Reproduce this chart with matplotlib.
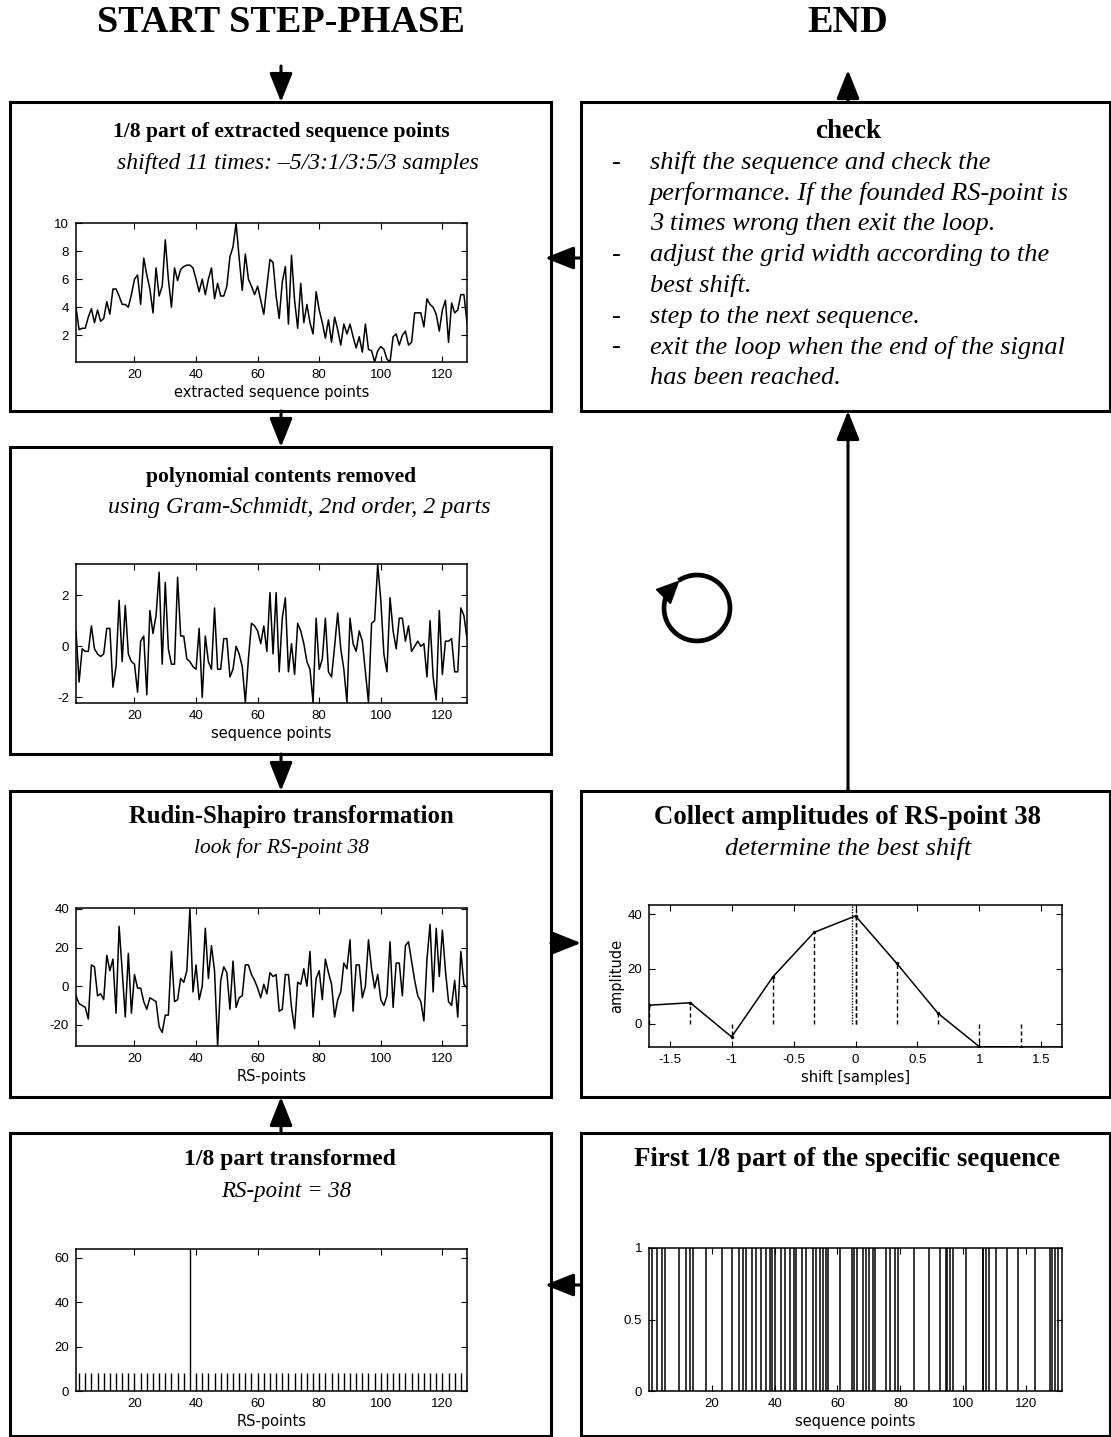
import numpy as np
import matplotlib
matplotlib.use("Agg")
import matplotlib.pyplot as plt
from matplotlib.patches import Rectangle, Polygon

W, H = 1111, 1437

# extracted sequence points (1/8 part)
seq_points = [
    4.0, 2.4, 2.5, 2.5, 3.3, 3.9, 2.9, 3.8, 3.0, 3.2,
    4.4, 3.5, 5.3, 5.3, 4.8, 4.2, 4.2, 4.0, 4.9, 6.0,
    6.3, 4.2, 7.5, 6.3, 5.3, 3.6, 6.8, 4.8, 5.5, 8.8,
    6.0, 4.0, 6.8, 5.9, 6.7, 6.9, 7.0, 7.0, 6.8, 6.0,
    5.1, 6.0, 4.9, 6.0, 6.8, 4.6, 5.7, 4.8, 4.8, 5.5,
    7.6, 8.3, 10.0, 7.5, 5.2, 7.8, 6.0, 5.5, 4.9, 5.5,
    4.5, 3.5, 5.5, 7.4, 7.2, 4.8, 3.2, 5.8, 6.9, 2.8,
    7.7, 4.5, 2.5, 5.7, 2.9, 4.2, 2.9, 2.1, 5.1, 3.8,
    2.9, 1.8, 3.1, 1.5, 3.3, 2.4, 1.3, 2.8, 2.1, 2.8,
    1.9, 1.1, 1.9, 0.8, 2.8, 1.0, 0.9, 0.1, 0.9, 1.2,
    1.0, 0.3, 0.1, 1.9, 2.1, 1.3, 2.0, 2.3, 1.3, 1.5,
    3.6, 3.6, 3.6, 2.6, 4.6, 4.2, 4.0, 3.5, 2.3, 3.8,
    4.5, 1.5, 4.3, 3.6, 3.8, 4.9, 4.9, 2.9,
]

# after removing the polynomial contents
detrended = [
    0.6, -1.4, -0.1, -0.2, -0.2, 0.8, -0.1, -0.3, -0.4, -0.3,
    0.7, 0.7, -1.6, -0.8, 1.8, -0.6, 1.6, -0.3, -0.6, -0.7,
    -1.8, 0.2, 0.4, -1.9, 1.4, 0.5, 1.2, 2.9, -0.7, 2.5,
    -0.1, -0.7, -0.7, 2.7, 0.4, 0.4, -0.5, -0.6, -0.8, -0.9,
    0.7, -2.0, 0.4, -0.6, -0.9, 1.5, -0.9, -0.9, 0.3, 0.3,
    -1.2, -0.9, 0.0, -0.3, -0.8, -2.2, -0.5, 0.9, 0.8, 0.6,
    0.1, 0.8, -0.2, 2.1, -0.3, 2.1, -1.0, 1.1, 1.9, -1.0,
    0.1, -1.1, 0.9, 0.6, 0.1, -0.6, -0.9, -2.2, 1.1, -0.9,
    -0.5, 1.1, -1.0, -1.2, 0.0, 1.3, -0.1, -0.9, -2.2, 1.1,
    0.1, -0.2, 0.6, 0.2, -1.0, -2.2, 0.9, 1.0, 3.2, 1.8,
    -0.3, -1.0, 1.9, 0.6, -0.1, 1.1, 1.1, 0.2, 0.8, -0.2,
    0.0, 0.2, 0.0, 0.1, -1.2, 1.0, -1.2, -2.1, 1.4, -1.1,
    0.2, 0.2, 0.3, -1.0, -1.0, 1.5, 1.2, 0.3,
]

# Rudin-Shapiro transform of the detrended part
rs_transform = [
    -5, -9, -10, -11, -17, 11, 10, -5, -4, -7,
    16, 8, 14, -14, 31, 8, -16, 17, -14, 6,
    -1, -1, -8, -12, -6, -7, -8, -21, -24, -15,
    -15, 18, -8, -7, 4, 2, 8, 40, -3, 11,
    -7, 0, 30, 4, 21, 8, -31, 3, 10, 7,
    -12, 13, -11, -6, -5, 11, 11, 6, 3, -1,
    -6, 1, -4, 7, 5, 6, -13, -12, 6, 6,
    -11, -22, 2, 1, 9, 0, 18, -16, 4, 8,
    -7, 14, 7, 1, -16, -7, -3, 12, 9, 24,
    -13, 11, 11, -6, 0, 24, 9, -1, 6, -7,
    -10, -5, 23, -11, 12, 12, -5, 21, 23, 13,
    3, -5, -8, -18, 14, 32, -3, 30, 5, 29,
    8, -8, -10, 3, -16, 18, 1, -1,
]

# amplitudes of RS-point 38 for every shift
shifts = [-5/3, -4/3, -1, -2/3, -1/3, 0, 1/3, 2/3, 1, 4/3, 5/3]
amplitudes = [6.7, 7.6, -4.9, 17.1, 33.4, 39.4, 22.0, 3.7, -8.5, -8.6, -8.6]
best_shift = -0.03

# transformed specific sequence: one peak at RS-point 38
rs_single_x = np.arange(2, 129, 2)
rs_single_y = [
    8, 8, 8, 8, 8, 8, 8, 8, 8, 8, 8, 8, 8, 8, 8, 8,
    8, 8, 64, 8, 8, 8, 8, 8, 8, 8, 8, 8, 8, 8, 8, 8,
    8, 8, 8, 8, 8, 8, 8, 8, 8, 8, 8, 8, 8, 8, 8, 8,
    8, 8, 8, 8, 8, 8, 8, 8, 8, 8, 8, 8, 8, 8, 8, 8,
]

# positions where the specific 0/1 sequence changes value
flip_points = [
    1, 2.5, 4, 5.2, 9.5, 11.8, 13.2, 13.9, 18.2, 23.3,
    26.5, 28.8, 29.9, 31, 32.9, 34.1, 35.7, 37.3, 38.4, 39.3,
    40, 42.1, 43.2, 44.8, 46.1, 46.7, 48.7, 50.1, 52.2, 53.3,
    54.4, 55.4, 56.3, 57, 60.7, 64.7, 65.3, 66.1, 68, 69,
    70.1, 71.2, 71.9, 75.6, 76.7, 78.3, 79.4, 84.5, 89.3, 92.7,
    94.5, 95, 95.9, 96.7, 100.9, 106.2, 106.5, 107.2, 108.4, 110.5,
    114.1, 117.4, 123, 127.8, 128.3, 129.4, 130.1,
]

plt.rcParams["font.family"] = ["Liberation Sans", "DejaVu Sans"]
plt.rcParams["axes.unicode_minus"] = False

fig = plt.figure(figsize=(W / 100, H / 100), dpi=100)
fig.patch.set_facecolor("white")

# canvas in pixel units for boxes, arrows and text
cv = fig.add_axes([0, 0, 1, 1])
cv.set_xlim(0, W)
cv.set_ylim(H, 0)
cv.axis("off")

serif = ["Liberation Serif", "DejaVu Serif"]
LW = 2.2


def box(x0, y0, x1, y1):
    cv.add_patch(Rectangle((x0, y0), x1 - x0, y1 - y0, fill=False,
                           lw=LW, ec="black"))


def arrow(x0, y0, x1, y1):
    cv.annotate("", xy=(x1, y1), xytext=(x0, y0),
                arrowprops=dict(arrowstyle="-|>,head_length=0.8,head_width=0.32",
                                mutation_scale=22, lw=LW, color="black",
                                shrinkA=0, shrinkB=0))


def bold(x, y, txt, size):
    cv.text(x, y, txt, ha="center", va="center", family=serif,
            fontsize=size, fontweight="bold")


def ital(x, y, txt, size):
    cv.text(x, y, txt, ha="center", va="center", family=serif,
            fontsize=size, style="italic")


cv.text(281, 22, "START STEP-PHASE", ha="center", va="center", family=serif,
        fontsize=27.5, fontweight="bold")
cv.text(848, 22, "END", ha="center", va="center", family=serif,
        fontsize=27.5, fontweight="bold")

LX0, LX1 = 10, 551
RX0, RX1 = 581, 1110
rows = [(102, 411), (447, 754), (791, 1097), (1133, 1436)]

box(LX0, rows[0][0], LX1, rows[0][1])
box(RX0, rows[0][0], RX1, rows[0][1])
box(LX0, rows[1][0], LX1, rows[1][1])
box(LX0, rows[2][0], LX1, rows[2][1])
box(RX0, rows[2][0], RX1, rows[2][1])
box(LX0, rows[3][0], LX1, rows[3][1])
box(RX0, rows[3][0], RX1, rows[3][1])

arrow(281, 66, 281, 102)
arrow(848, 102, 848, 70)
arrow(281, 411, 281, 447)
arrow(281, 754, 281, 791)
arrow(281, 1133, 281, 1097)
arrow(581, 258, 545, 258)
arrow(551, 943, 581, 943)
arrow(848, 791, 848, 411)
arrow(581, 1285, 545, 1285)

bold(281, 132, "1/8 part of extracted sequence points", 15.5)
ital(298, 163, "shifted 11 times: \u20135/3:1/3:5/3 samples", 17)
bold(281, 477, "polynomial contents removed", 15.5)
ital(299, 508, "using Gram-Schmidt, 2nd order, 2 parts", 17.3)
bold(291, 817, "Rudin-Shapiro transformation", 17.8)
ital(281, 848, "look for RS-point 38", 15.5)
bold(848, 817, "Collect amplitudes of RS-point 38", 19.4)
ital(848, 848, "determine the best shift", 19)
bold(290, 1160, "1/8 part transformed", 17)
ital(286, 1191, "RS-point = 38", 16.5)
bold(847, 1160, "First 1/8 part of the specific sequence", 19.4)

bold(848, 132, "check", 19.5)
check_lines = [
    ("-", "shift the sequence and check the"),
    ("", "performance. If the founded RS-point is"),
    ("", "3 times wrong then exit the loop."),
    ("-", "adjust the grid width according to the"),
    ("", "best shift."),
    ("-", "step to the next sequence."),
    ("-", "exit the loop when the end of the signal"),
    ("", "has been reached."),
]
for i, (dash, txt) in enumerate(check_lines):
    y = 163 + i * 30.7
    if dash:
        cv.text(612, y, dash, ha="left", va="center", family=serif, fontsize=19)
    cv.text(650, y, txt, ha="left", va="center", family=serif,
            fontsize=19, style="italic")

# circular loop symbol
cx, cy, r = 697, 608, 33
ang = np.radians(np.linspace(150, 480, 200))
cv.plot(cx + r * np.cos(ang), cy - r * np.sin(ang), color="black", lw=3.4)
tip = np.radians(150)
tx, ty = cx + r * np.cos(tip), cy - r * np.sin(tip)
cv.add_patch(Polygon([(tx - 12, ty - 2), (tx + 10, ty - 10), (tx + 2, ty + 12)],
                     closed=True, color="black"))


def inset(x0, y0, x1, y1):
    ax = fig.add_axes([x0 / W, 1 - y1 / H, (x1 - x0) / W, (y1 - y0) / H])
    ax.tick_params(direction="in", top=True, right=True, length=4, width=0.8,
                   labelsize=9.5, pad=5)
    for s in ax.spines.values():
        s.set_linewidth(1.1)
    return ax


def label(ax, xtxt, ytxt=None):
    ax.set_xlabel(xtxt, fontsize=10.5, family="DejaVu Sans", labelpad=3)
    if ytxt:
        ax.set_ylabel(ytxt, fontsize=10.5, family="DejaVu Sans", labelpad=2)


xi = np.arange(1, 129)
xt = [20, 40, 60, 80, 100, 120]

ax1 = inset(76, 223, 467, 362)
ax1.plot(xi, seq_points, color="black", lw=1.1)
ax1.set_xlim(1, 128)
ax1.set_ylim(0.1, 10)
ax1.set_xticks(xt)
ax1.set_yticks([2, 4, 6, 8, 10])
label(ax1, "extracted sequence points")

ax2 = inset(76, 564, 467, 703)
ax2.plot(xi, detrended, color="black", lw=1.1)
ax2.set_xlim(1, 128)
ax2.set_ylim(-2.22, 3.22)
ax2.set_xticks(xt)
ax2.set_yticks([-2, 0, 2])
label(ax2, "sequence points")

ax3 = inset(76, 908, 467, 1046)
ax3.plot(xi, rs_transform, color="black", lw=1.1)
ax3.set_xlim(1, 128)
ax3.set_ylim(-31, 40.5)
ax3.set_xticks(xt)
ax3.set_yticks([-20, 0, 20, 40])
label(ax3, "RS-points")

ax4 = inset(649, 905, 1062, 1047)
ax4.set_xlim(-5/3, 5/3)
ax4.set_ylim(-8.6, 43.4)
ax4.vlines(shifts, 0, amplitudes, colors="black", linestyles=(0, (3, 2)), lw=1.0)
ax4.vlines([0], 0, 43.4, colors="black", linestyles=(0, (3, 2)), lw=1.0)
ax4.vlines([best_shift], 0, 43.4, colors="black", linestyles=(0, (1, 1)), lw=1.0)
ax4.plot(shifts, amplitudes, color="black", lw=1.1, marker=".", ms=3)
ax4.set_xticks([-1.5, -1, -0.5, 0, 0.5, 1, 1.5])
ax4.set_xticklabels(["-1.5", "-1", "-0.5", "0", "0.5", "1", "1.5"])
ax4.set_yticks([0, 20, 40])
label(ax4, "shift [samples]", "amplitude")

ax5 = inset(76, 1249, 467, 1391)
ax5.vlines(rs_single_x, 0, rs_single_y, colors="black", lw=1.0)
ax5.set_xlim(1, 128)
ax5.set_ylim(0, 64)
ax5.set_xticks(xt)
ax5.set_yticks([0, 20, 40, 60])
label(ax5, "RS-points")

ax6 = inset(649, 1248, 1062, 1391)
ax6.vlines(flip_points, 0, 1, colors="black", lw=1.1)
ax6.set_xlim(0, 131.5)
ax6.set_ylim(0, 1)
ax6.set_xticks(xt)
ax6.set_yticks([0, 0.5, 1])
ax6.set_yticklabels(["0", "0.5", "1"])
label(ax6, "sequence points")

fig.savefig("out.png", dpi=100, facecolor="white")
